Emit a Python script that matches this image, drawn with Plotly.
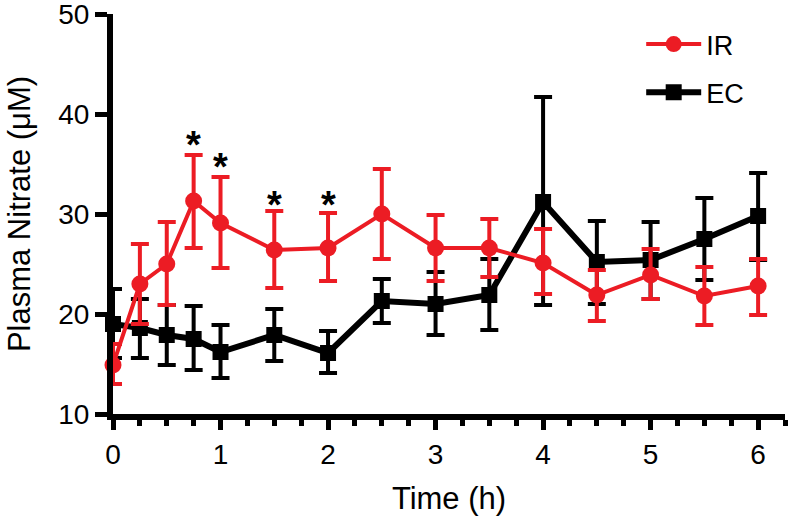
import plotly.graph_objects as go

time_h = [0, 0.25, 0.5, 0.75, 1, 1.5, 2, 2.5, 3, 3.5, 4, 4.5, 5, 5.5, 6]

ir_mean = [14.9, 23.0, 25.0, 31.3, 29.1, 26.4, 26.6, 30.0, 26.6, 26.6, 25.1, 21.9, 23.9, 21.8, 22.8]
ir_upper = [17.0, 27.0, 29.2, 35.9, 33.7, 30.3, 30.1, 34.5, 29.9, 29.5, 28.5, 24.4, 26.5, 24.7, 25.5]
ir_lower = [13.0, 19.0, 20.9, 26.6, 24.6, 22.6, 23.3, 25.5, 23.3, 23.7, 22.0, 19.3, 21.5, 18.9, 19.9]

ec_mean = [19.0, 18.6, 17.9, 17.5, 16.2, 17.9, 16.1, 21.3, 21.0, 21.9, 31.2, 25.2, 25.4, 27.5, 29.8]
ec_upper = [22.5, 21.5, 20.9, 20.8, 18.9, 20.5, 18.3, 23.5, 24.2, 25.5, 41.7, 29.3, 29.2, 31.6, 34.1]
ec_lower = [15.6, 15.6, 14.9, 14.4, 13.6, 15.3, 14.1, 19.1, 17.9, 18.4, 20.9, 21.0, 21.5, 23.4, 25.4]

sig_times = [0.75, 1, 1.5, 2]
sig_y = [37.5, 35.3, 31.5, 31.5]

y_ticks = [10, 20, 30, 40, 50]
x_ticks = [0, 1, 2, 3, 4, 5, 6]

RED = "rgb(236,28,36)"
BLACK = "rgb(0,0,0)"
FONT = "Liberation Sans, Arial, Helvetica, sans-serif"

fig = go.Figure()

fig.add_trace(go.Scatter(
    x=time_h, y=ec_mean, name="EC", mode="lines+markers",
    line=dict(color=BLACK, width=6),
    marker=dict(symbol="square", size=16, color=BLACK),
    error_y=dict(type="data", symmetric=False,
                 array=[u - m for u, m in zip(ec_upper, ec_mean)],
                 arrayminus=[m - l for l, m in zip(ec_lower, ec_mean)],
                 color=BLACK, thickness=4, width=9),
    cliponaxis=False, legendgroup="ec", legendrank=2,
))

fig.add_trace(go.Scatter(
    x=time_h, y=ir_mean, name="IR", mode="lines+markers",
    line=dict(color=RED, width=4),
    marker=dict(symbol="circle", size=17, color=RED),
    error_y=dict(type="data", symmetric=False,
                 array=[u - m for u, m in zip(ir_upper, ir_mean)],
                 arrayminus=[m - l for l, m in zip(ir_lower, ir_mean)],
                 color=RED, thickness=4, width=9),
    cliponaxis=False, legendgroup="ir", legendrank=1,
))

for t, yv in zip(sig_times, sig_y):
    fig.add_annotation(x=t, y=yv, text="<b>*</b>", showarrow=False,
                       font=dict(size=38, color=BLACK, family=FONT),
                       yanchor="middle", yshift=-6)

fig.update_layout(
    width=788, height=516,
    margin=dict(l=113, r=3, t=14, b=102),
    paper_bgcolor="white", plot_bgcolor="white",
    font=dict(family=FONT, color=BLACK),
    showlegend=True,
    legend=dict(x=0.786, y=0.985, xanchor="left", yanchor="top",
                font=dict(size=27, family=FONT, color=BLACK),
                itemwidth=55, tracegroupgap=10, bgcolor="rgba(0,0,0,0)"),
    xaxis=dict(
        range=[0, 6.25], showgrid=False, zeroline=False, automargin=False,
        showline=True, linecolor=BLACK, linewidth=6,
        ticks="outside", tickvals=x_ticks, ticklen=10, tickwidth=5, tickcolor=BLACK,
        minor=dict(dtick=0.25, tick0=0, ticks="outside", ticklen=6, tickwidth=5, tickcolor=BLACK),
        tickfont=dict(size=28, family=FONT, color=BLACK),
        ticklabeloverflow="allow",
        title=dict(text="Time (h)", font=dict(size=31, family=FONT, color=BLACK), standoff=22),
    ),
    yaxis=dict(
        range=[10, 50], showgrid=False, zeroline=False, automargin=False,
        showline=True, linecolor=BLACK, linewidth=6,
        ticks="outside", tickvals=y_ticks, ticklen=12, tickwidth=5, tickcolor=BLACK,
        tickfont=dict(size=28, family=FONT, color=BLACK),
        ticklabeloverflow="allow",
        title=dict(text="Plasma Nitrate (μM)", font=dict(size=31, family=FONT, color=BLACK), standoff=20),
    ),
)

fig.write_html("out.html", config={"displayModeBar": False},
               post_script="document.body.style.margin='0';")
